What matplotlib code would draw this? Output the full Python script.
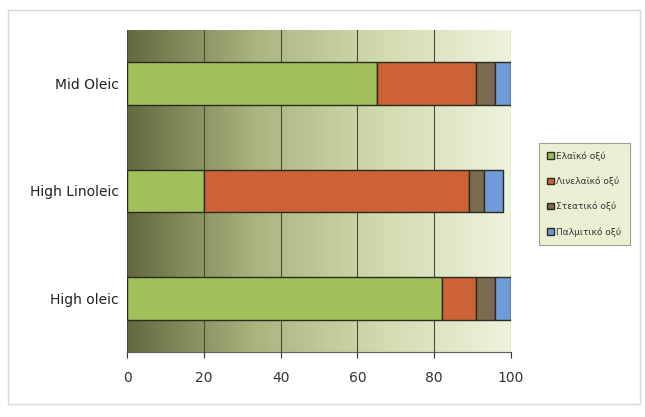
import matplotlib.pyplot as plt
import numpy as np
from matplotlib.colors import LinearSegmentedColormap

# fatty acid composition (%) per sunflower oil type
oil_types = ["High oleic", "High Linoleic", "Mid Oleic"]
oleic = [82, 20, 65]
linoleic = [9, 69, 26]
stearic = [5, 4, 5]
palmitic = [4, 5, 4]

labels = ["Ελαϊκό οξύ", "Λινελαϊκό οξύ", "Στεατικό οξύ", "Παλμιτικό οξύ"]
colors = ["#a0c05c", "#cc6236", "#7c6a4e", "#6f9bd8"]

fig = plt.figure(figsize=(6.45, 4.17), dpi=100)
fig.patch.set_facecolor("white")

# thin frame around the whole chart area
fig.add_artist(plt.Rectangle((0.012, 0.03), 0.98, 0.945, transform=fig.transFigure,
                             fill=False, edgecolor="#d8d8d8", linewidth=1))

ax = fig.add_axes([0.197, 0.156, 0.595, 0.772])

# olive gradient background, dark on the left, pale on the right
cmap = LinearSegmentedColormap.from_list("olive", ["#646940", "#a9b47e", "#d2dbb0", "#eef3dd"])
grad = np.linspace(0, 1, 256).reshape(1, -1)
ax.imshow(grad, extent=[0, 100, -0.5, 2.5], aspect="auto", cmap=cmap, zorder=0)

y = np.arange(len(oil_types))
left = np.zeros(len(oil_types))
for vals, lab, col in zip([oleic, linoleic, stearic, palmitic], labels, colors):
    ax.barh(y, vals, left=left, height=0.4, color=col, edgecolor="#2a2a20",
            linewidth=1.0, label=lab, zorder=3)
    left += np.array(vals)

ax.set_xlim(0, 100)
ax.set_ylim(-0.5, 2.5)
ax.set_xticks(range(0, 101, 20))
ax.set_yticks(y)
ax.set_yticklabels(oil_types)
ax.xaxis.grid(True, color="#4a4a3a", linewidth=0.8, zorder=1)
ax.set_axisbelow(False)
for s in ["top", "right", "left"]:
    ax.spines[s].set_visible(False)
ax.spines["bottom"].set_color("#606060")
ax.tick_params(axis="y", length=0, labelsize=10, colors="#222222", pad=6)
ax.tick_params(axis="x", length=4, labelsize=10, colors="#333333", pad=10)

leg = fig.legend(loc="center left", bbox_to_anchor=(0.829, 0.535), fontsize=6.5,
                 handlelength=0.7, handleheight=0.7, handletextpad=0.3,
                 labelspacing=1.75, borderpad=0.9, frameon=True, fancybox=False)
leg.get_frame().set_facecolor("#e6ecc9")
leg.get_frame().set_edgecolor("#8a8a7a")
leg.get_frame().set_linewidth(0.8)
for t in leg.get_texts():
    t.set_color("#333333")

fig.savefig("out.png", dpi=100)
